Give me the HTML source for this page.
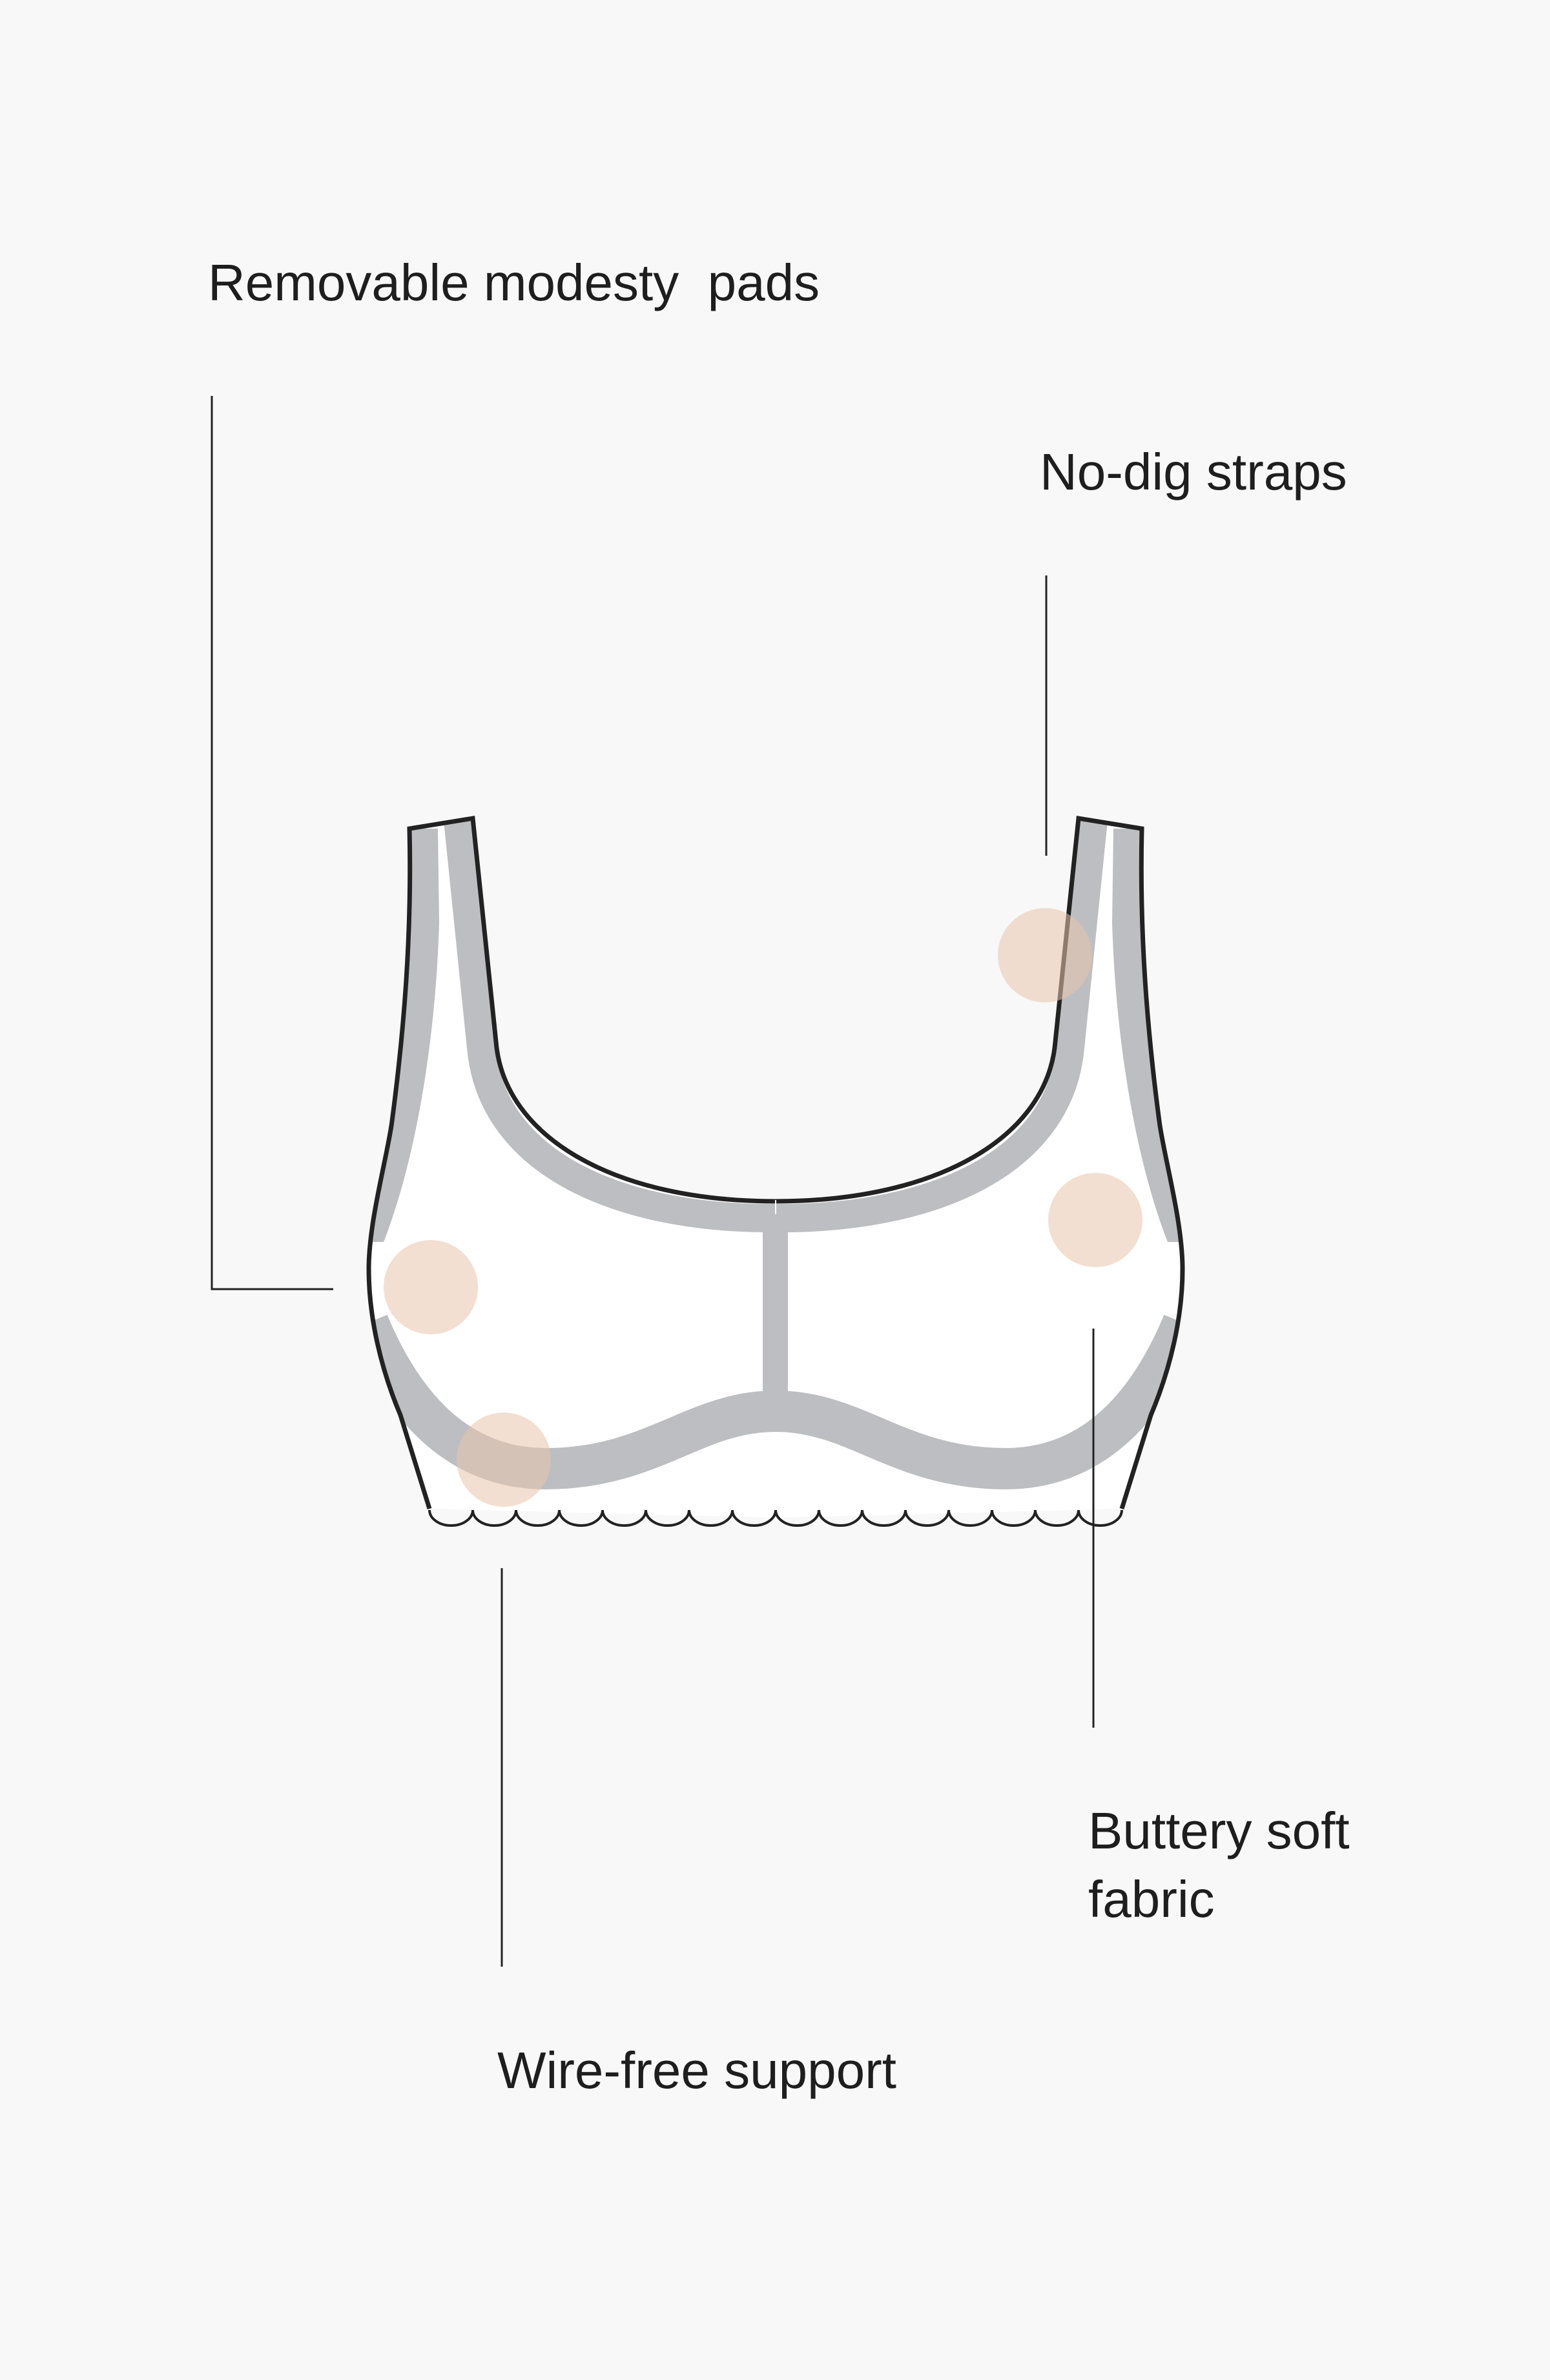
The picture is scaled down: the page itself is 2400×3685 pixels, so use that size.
<!DOCTYPE html>
<html><head><meta charset="utf-8"><style>
html,body{margin:0;padding:0;background:#f8f8f8;}
body{width:2400px;height:3680px;overflow:hidden;}
text{font-family:"Liberation Sans",sans-serif;fill:#1e1e1e;font-size:80px;}
</style></head><body>
<svg width="2400" height="3680" viewBox="0 0 2400 3680" xmlns="http://www.w3.org/2000/svg">
<rect width="2400" height="3680" fill="#f8f8f8"/>
<defs>
<path id="fillhalf" d="M634,1283 L732,1267 L768,1613 C780,1760 950,1862 1201,1862 L1201,2350 L665,2336 L620,2191 C590,2120 571,2040 571,1965 C571,1890 600,1790 607,1736 C625,1600 638,1450 634,1283 Z"/>
<clipPath id="clipL"><use href="#fillhalf"/></clipPath>
<g id="half">
  <use href="#fillhalf" fill="#fff"/>
  <g clip-path="url(#clipL)">
    <path d="M638,1283 L678,1283 L680,1430 C674,1620 642,1800 594,1923 L570,1923 C585,1800 603,1720 610,1650 C628,1500 640,1420 632,1283 Z" fill="#bdbec1"/>
    <path d="M709,1270 L745,1622 C762,1805 965,1888 1201,1886" fill="none" stroke="#bdbec1" stroke-width="44"/>
    <path d="M570,2048 C630,2192 720,2274 845,2274 C1010,2274 1075,2185 1201,2185" fill="none" stroke="#bdbec1" stroke-width="64"/>
  </g>
  <path d="M665,2336 L620,2191 C590,2120 571,2040 571,1965 C571,1890 600,1790 607,1736 C625,1600 638,1450 634,1283 L732,1267 L768,1613 C780,1760 950,1860 1201,1860" fill="none" stroke="#222" stroke-width="7"/>
</g>
</defs>
<use href="#half"/>
<use href="#half" transform="translate(2402,0) scale(-1,1)"/>
<rect x="1181" y="1895" width="39" height="265" fill="#bdbec1"/>
<line x1="1201" y1="1858" x2="1201" y2="1880" stroke="#fff" stroke-width="2"/>
<path d="M665,2338 a33.5,24 0 0 0 67,0 a33.5,24 0 0 0 67,0 a33.5,24 0 0 0 67,0 a33.5,24 0 0 0 67,0 a33.5,24 0 0 0 67,0 a33.5,24 0 0 0 67,0 a33.5,24 0 0 0 67,0 a33.5,24 0 0 0 67,0 a33.5,24 0 0 0 67,0 a33.5,24 0 0 0 67,0 a33.5,24 0 0 0 67,0 a33.5,24 0 0 0 67,0 a33.5,24 0 0 0 67,0 a33.5,24 0 0 0 67,0 a33.5,24 0 0 0 67,0 a33.5,24 0 0 0 67,0" fill="none" stroke="#222" stroke-width="4"/>
<g fill="#e8c4ad" fill-opacity="0.55">
  <ellipse cx="667" cy="1993" rx="73" ry="73"/>
  <ellipse cx="780" cy="2260" rx="73" ry="73"/>
  <ellipse cx="1618" cy="1479" rx="73" ry="73"/>
  <ellipse cx="1696" cy="1889" rx="73" ry="73"/>
</g>
<g stroke="#222" stroke-width="3" fill="none">
  <polyline points="328,613 328,1996 516,1996"/>
  <line x1="1620" y1="891" x2="1620" y2="1325"/>
  <line x1="1693" y1="2057" x2="1693" y2="2675"/>
  <line x1="777" y1="2428" x2="777" y2="3045"/>
</g>
<text x="322" y="465" xml:space="preserve">Removable modesty  pads</text>
<text x="1610" y="758">No-dig straps</text>
<text x="1685" y="2862">Buttery soft</text>
<text x="1685" y="2968">fabric</text>
<text x="770" y="3233">Wire-free support</text>
</svg>
</body></html>
